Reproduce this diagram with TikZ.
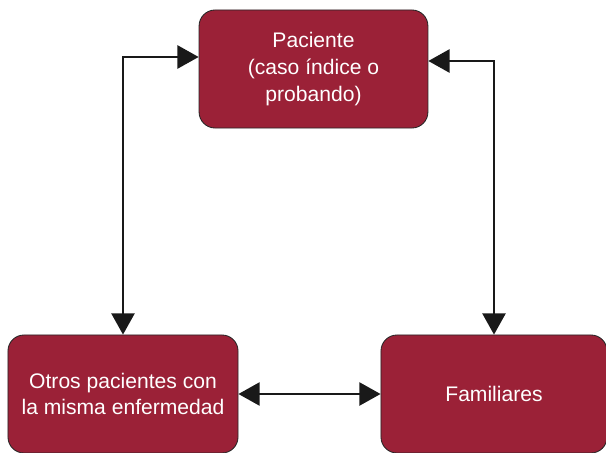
\documentclass[tikz,border=0pt]{standalone}
\usepackage{fontspec}
\setmainfont{Liberation Sans}
\usetikzlibrary{arrows.meta}
\definecolor{granate}{RGB}{155,33,55}

\begin{document}
\begin{tikzpicture}[x=0.025cm, y=-0.025cm,
    caja/.style={draw=black!85, line width=0.6pt, fill=granate, rounded corners=0.4cm,
        text=white, align=center, font=\fontsize{15}{19}\selectfont,
        minimum height=2.95cm, inner sep=0pt},
    flecha/.style={line width=1.3pt, draw=black!90,
        {Triangle[length=0.53cm, width=0.58cm]}-{Triangle[length=0.53cm, width=0.58cm]}}]
    \useasboundingbox (0,0) rectangle (606,453);
    \begin{scope}
    \clip (0,0) rectangle (606,453);
    \node[caja, minimum width=5.72cm] (P) at (313.5,69) {Paciente\\(caso índice o\\probando)};
    \node[caja, minimum width=5.75cm] (O) at (123,394) {Otros pacientes con\\la misma enfermedad};
    \node[caja, minimum width=5.65cm] (F) at (494,394) {Familiares};
    \end{scope}
    \draw[flecha] (O.north) |- ([yshift=0.3cm]P.west);
    \draw[flecha] ([yshift=0.2cm]P.east) -| (F.north);
    \draw[flecha] (O.east) -- (F.west);
\end{tikzpicture}
\end{document}
